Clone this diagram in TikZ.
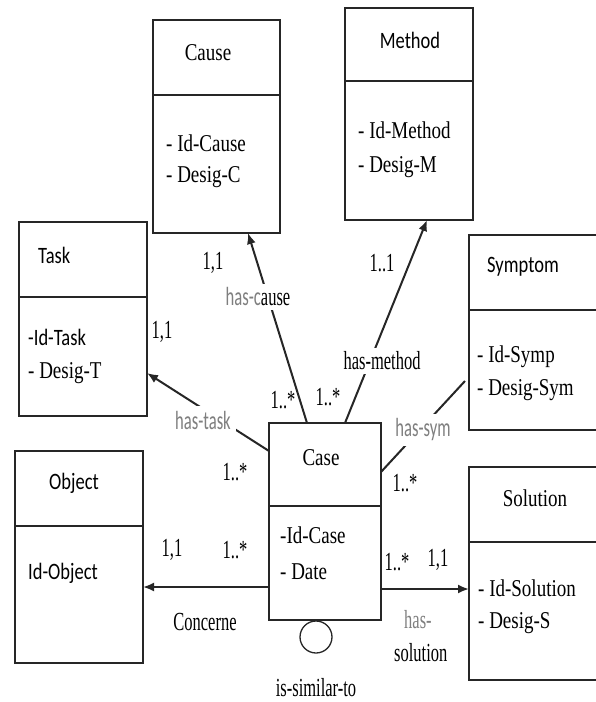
\documentclass[tikz,border=0pt]{standalone}
\usepackage{fontspec}
\setmainfont{Liberation Serif}
\newfontfamily\sansfam{Carlito}
\usetikzlibrary{arrows.meta}
\definecolor{lin}{HTML}{262626}
\definecolor{gry}{HTML}{7F7F7F}
\newcommand{\tall}[1]{\scalebox{1}[1.27]{#1}}
\newcommand{\ltall}[1]{\scalebox{1}[1.58]{#1}}
\tikzset{
  part/.style={draw=lin, line width=1.6pt, anchor=north west, inner sep=0pt, outer sep=0pt},
  txt/.style={inner sep=0pt, font=\rmfamily\fontsize{19}{23}\selectfont},
  stxt/.style={inner sep=0pt, font=\sansfam\fontsize{18.5}{22}\selectfont},
  lab/.style={inner sep=1pt, font=\rmfamily\fontsize{16.5}{20}\selectfont},
  slab/.style={inner sep=1pt, font=\sansfam\fontsize{16.6}{20}\selectfont, text=gry},
  conn/.style={draw=lin, line width=2pt},
  arr/.style={conn, -{Latex[length=11pt,width=9pt]}},
}
\begin{document}
\begin{tikzpicture}[x=1pt,y=-1pt]
\useasboundingbox (0,0) rectangle (596,702);
% boxes
\node[part, minimum width=127pt, minimum height=75pt] (cause-h) at (153,20) {};
\node[part, minimum width=127pt, minimum height=138pt] (cause-b) at (153,95) {};
\node[part, minimum width=128pt, minimum height=73pt] (method-h) at (345,8) {};
\node[part, minimum width=128pt, minimum height=139pt] (method-b) at (345,81) {};
\node[part, minimum width=128pt, minimum height=75pt] (task-h) at (19,222) {};
\node[part, minimum width=128pt, minimum height=119pt] (task-b) at (19,297) {};
\node[part, minimum width=140pt, minimum height=75pt] (symptom-h) at (469,235) {};
\node[part, minimum width=140pt, minimum height=120pt] (symptom-b) at (469,310) {};
\node[part, minimum width=128pt, minimum height=75pt] (object-h) at (15,451) {};
\node[part, minimum width=128pt, minimum height=137pt] (object-b) at (15,526) {};
\node[part, minimum width=112pt, minimum height=83pt] (case-h) at (269,423) {};
\node[part, minimum width=112pt, minimum height=114pt] (case-b) at (269,506) {};
\node[part, minimum width=140pt, minimum height=75pt] (solution-h) at (469,467) {};
\node[part, minimum width=140pt, minimum height=138pt] (solution-b) at (469,542) {};
\node[draw=lin, line width=1.3pt, circle, minimum size=32pt, inner sep=0pt] (sim) at (316,637) {};
% box texts
\node[txt] (t-cause) at (208,53) {\tall{Cause}};
\node[txt, anchor=west] (t-cause1) at (166,143) {\tall{- Id-Cause}};
\node[txt, anchor=west] (t-cause2) at (166,177) {\tall{- Desig-C}};
\node[stxt] (t-method) at (410,40) {\tall{Method}};
\node[txt, anchor=west] (t-method1) at (358,130) {\tall{- Id-Method}};
\node[txt, anchor=west] (t-method2) at (358,167) {\tall{- Desig-M}};
\node[stxt, anchor=west] (t-task) at (38,255) {\tall{Task}};
\node[stxt, anchor=west] (t-task1) at (28,337) {\tall{-Id-Task}};
\node[txt, anchor=west] (t-task2) at (28,373) {\tall{- Desig-T}};
\node[stxt, anchor=west] (t-symp) at (487,267) {\tall{Symptom}};
\node[txt, anchor=west] (t-symp1) at (477,357) {\tall{- Id-Symp}};
\node[txt, anchor=west] (t-symp2) at (477,390) {\tall{- Desig-Sym}};
\node[stxt] (t-object) at (74,483) {\tall{Object}};
\node[stxt, anchor=west] (t-object1) at (28,573) {\tall{Id-Object}};
\node[txt] (t-case) at (321,458) {\tall{Case}};
\node[txt, anchor=west] (t-case1) at (280,535) {\tall{-Id-Case}};
\node[txt, anchor=west] (t-case2) at (280,572) {\tall{- Date}};
\node[txt] (t-sol) at (535,498) {\tall{Solution}};
\node[txt, anchor=west] (t-sol1) at (478,588) {\tall{- Id-Solution}};
\node[txt, anchor=west] (t-sol2) at (478,623) {\tall{- Desig-S}};
% connectors
\draw[arr] ([xshift=38pt]case-h.north west) -- ([xshift=95pt]cause-b.south west);
\draw[arr] ([xshift=76pt]case-h.north west) -- ([xshift=82pt]method-b.south west);
\draw[arr] ([yshift=-28pt]case-h.north west) -- ([yshift=-76pt]task-b.north east);
\coordinate (symend) at (465,381);
\draw[conn] ([yshift=-49pt]case-h.north east) -- (symend);
\draw[arr] ([yshift=-81pt]case-b.north west) -- ([yshift=-61pt]object-b.north east);
\draw[arr] ([yshift=-83pt]case-b.north east) -- ([yshift=-47pt]solution-b.north west);
% connector labels
\node[lab, fill=white, inner sep=4pt] (l-cause) at (258,297) {\ltall{{\sansfam\fontsize{16.6}{20}\selectfont\color{gry}has-c}ause}};
\node[lab, fill=white, inner sep=4pt] (l-method) at (382,361) {\ltall{has-method}};
\node[slab, fill=white, inner sep=5pt] (l-task) at (203,420) {\ltall{has-task}};
\node[slab, fill=white, inner sep=5pt] (l-sym) at (423,430) {\ltall{has-sym}};
\node[lab] (l-conc) at (205,622) {\ltall{Concerne}};
\node[lab, anchor=west] (l-sol1) at (403,620) {\ltall{\color{gry}has-}};
\node[lab, anchor=west] (l-sol2) at (393,653) {\ltall{solution}};
\node[lab] (l-sim) at (316,688) {\ltall{is-similar-to}};
% multiplicities
\node[lab] (m1) at (213,263) {\ltall{1,1}};
\node[lab] (m2) at (283,400) {\ltall{1..*}};
\node[lab] (m3) at (328,397) {\ltall{1..*}};
\node[lab] (m4) at (382,263) {\ltall{1..1}};
\node[lab] (m5) at (162,332) {\ltall{1,1}};
\node[lab] (m6) at (235,472) {\ltall{1..*}};
\node[lab] (m7) at (172,550) {\ltall{1,1}};
\node[lab] (m8) at (235,550) {\ltall{1..*}};
\node[lab] (m9) at (405,483) {\ltall{1..*}};
\node[lab] (m10) at (397,562) {\ltall{1..*}};
\node[lab] (m11) at (438,560) {\ltall{1,1}};
\end{tikzpicture}
\end{document}
